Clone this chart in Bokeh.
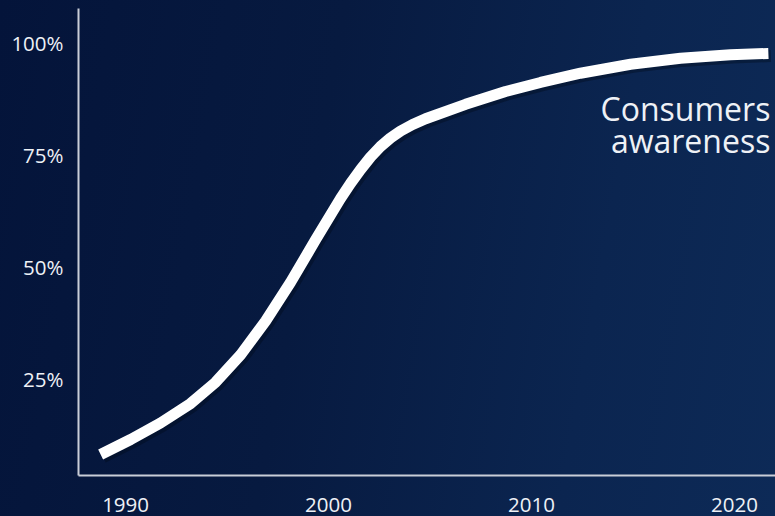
from bokeh.plotting import figure
from bokeh.models import Range1d, FixedTicker, Label
from bokeh.embed import file_html
from bokeh.resources import INLINE

years = [1988.77, 1990.25, 1991.72, 1993.20, 1994.43, 1995.67, 1996.90, 1998.13,
         1999.36, 2000.59, 2001.08, 2001.58, 2002.07, 2002.56, 2003.05, 2003.55,
         2004.14, 2004.78, 2006.75, 2008.72, 2010.44, 2012.41, 2014.88, 2017.34,
         2019.80, 2021.67]
awareness = [8.04, 11.38, 15.07, 19.42, 24.15, 30.29, 37.83, 46.47,
             55.96, 65.18, 68.53, 71.65, 74.44, 76.79, 78.68, 80.25,
             81.70, 82.99, 86.21, 89.06, 91.09, 93.15, 95.16, 96.50,
             97.28, 97.57]

x_ticks = [1990, 2000, 2010, 2020]
y_ticks = [25, 50, 75, 100]
y_tick_labels = ["25%", "50%", "75%", "100%"]
series_label = ["Consumers", "awareness"]

FONT = "Open Sans"
TEXT = "#eef1f6"

p = figure(width=775, height=516, output_backend="svg", toolbar_location=None,
           x_range=Range1d(1987.68, 2022.02), y_range=Range1d(3.35, 107.6),
           min_border_left=78, min_border_right=0, min_border_top=8, min_border_bottom=41)
p.styles = {"background": "linear-gradient(100deg, #04143a 0%, #071a40 40%, #0b2550 75%, #0d2a57 100%)"}
p.background_fill_alpha = 0
p.border_fill_alpha = 0
p.outline_line_color = None
p.grid.visible = False

# soft shadow
p.line([x + 0.12 for x in years], [y - 0.6 for y in awareness], line_width=12,
       line_color="#000814", line_alpha=0.35, line_cap="butt", line_join="round")
p.line(years, awareness, line_width=11, line_color="white", line_cap="butt", line_join="round")

for i, t in enumerate(series_label):
    p.add_layout(Label(x=years[-1], y=awareness[-1], x_offset=2, y_offset=-55 - 32 * i,
                       text=t, text_align="right", text_baseline="alphabetic",
                       text_color=TEXT, text_font=FONT, text_font_size="32px"))

for ax in (p.xaxis[0], p.yaxis[0]):
    ax.axis_line_color = "#c9ced8"
    ax.axis_line_width = 2
    ax.major_tick_line_color = None
    ax.minor_tick_line_color = None
    ax.major_tick_out = 0
    ax.minor_tick_out = 0
    ax.major_label_text_color = TEXT
    ax.major_label_text_font = FONT
    ax.major_label_text_font_size = "20.5px"

p.xaxis.ticker = FixedTicker(ticks=x_ticks)
p.xaxis.major_label_standoff = 22
p.yaxis.ticker = FixedTicker(ticks=y_ticks)
p.yaxis.major_label_overrides = dict(zip(y_ticks, y_tick_labels))
p.yaxis.major_label_standoff = 15

html = file_html(p, INLINE)
html = html.replace("<body>", '<body style="margin:0;background:#04143a;">')
open("out.html", "w").write(html)
